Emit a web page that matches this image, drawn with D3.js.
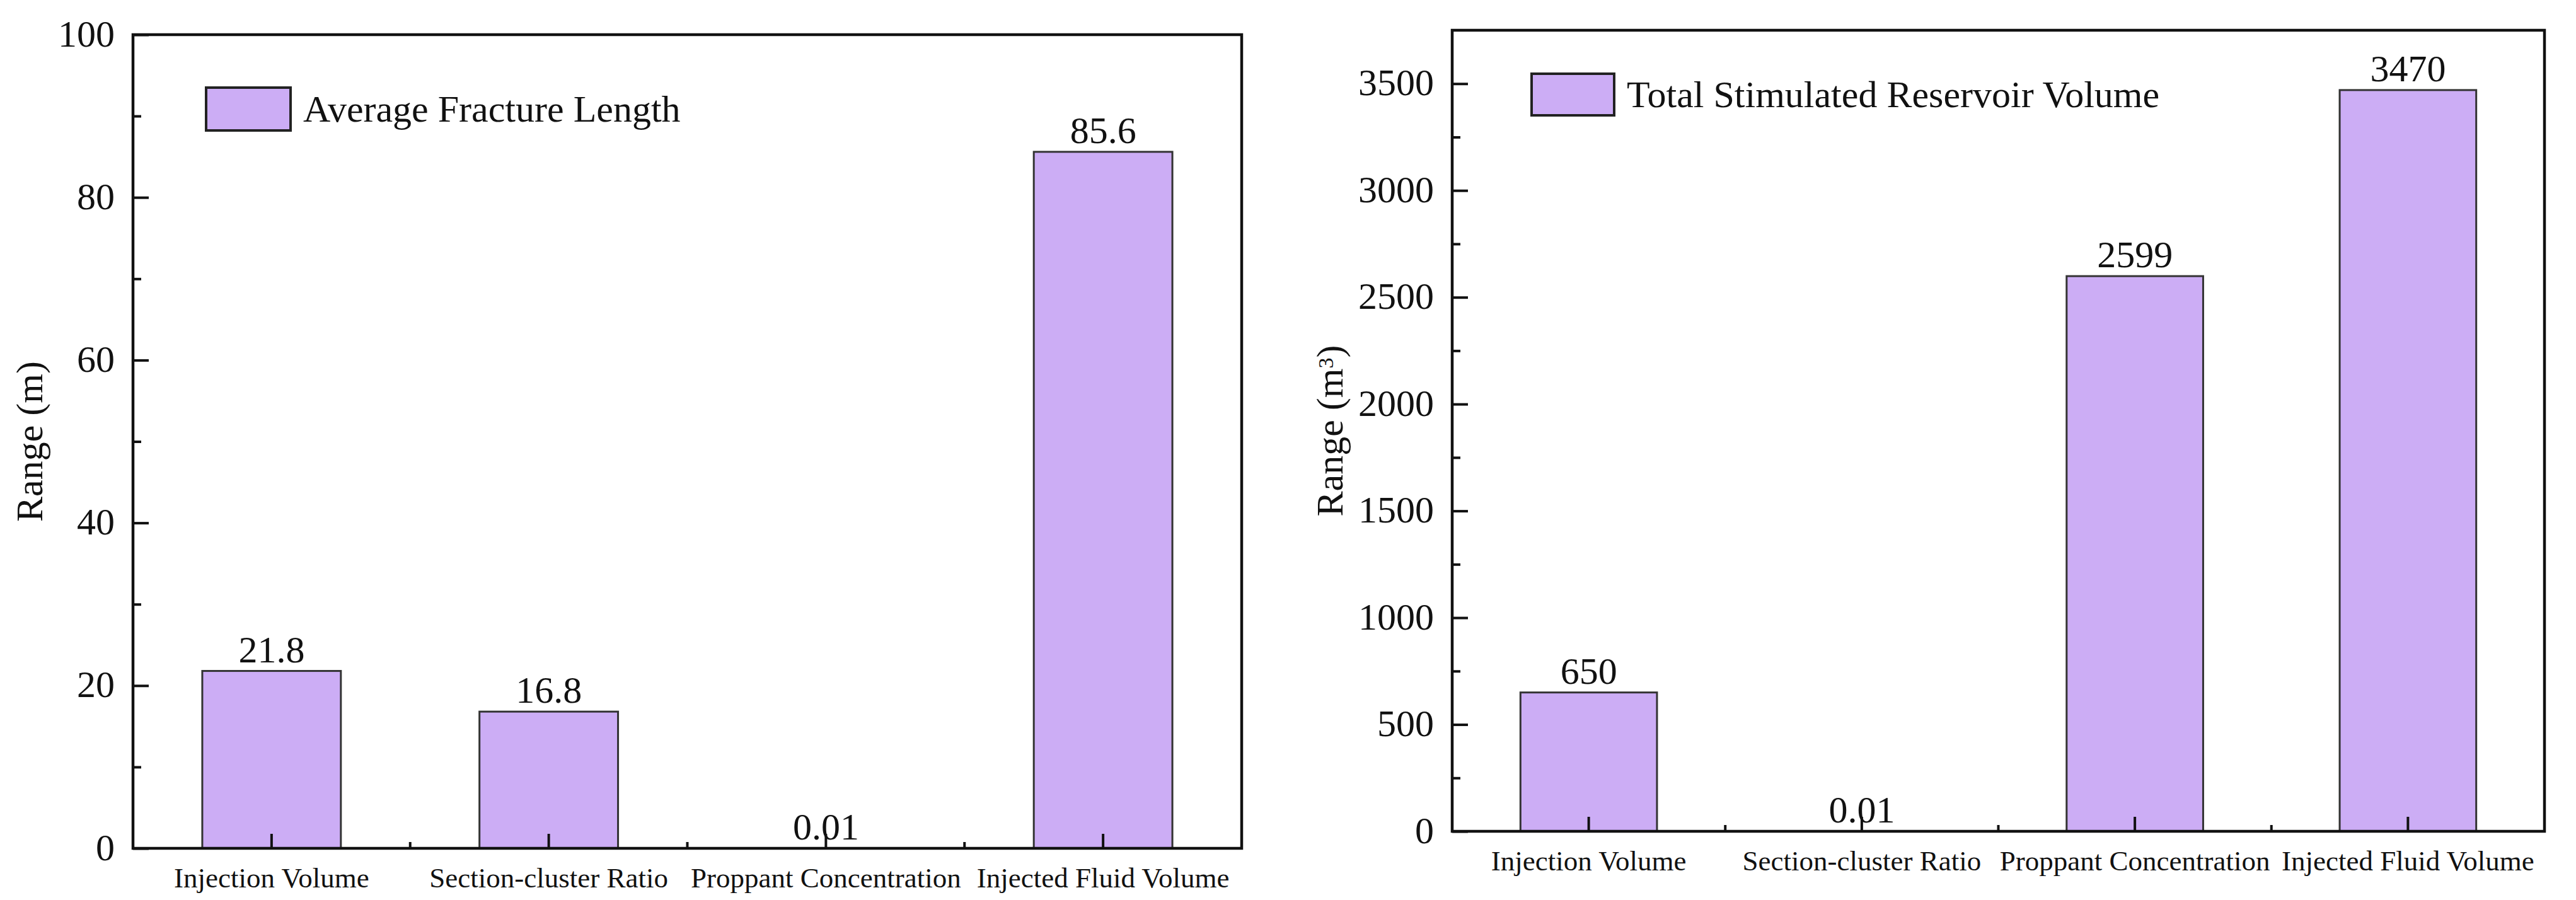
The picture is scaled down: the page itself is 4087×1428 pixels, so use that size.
<!DOCTYPE html>
<html>
<head>
<meta charset="utf-8">
<script src="https://cdn.jsdelivr.net/npm/d3@7"></script>
<style>
  html, body { margin: 0; padding: 0; background: #fff; }
  svg { display: block; }
  svg text { font-family: "Liberation Serif", "Times New Roman", serif; fill: #111; }
</style>
</head>
<body>
<div class="visualization"></div>
<script>
// categories shared by both panels
const categories = ["Injection Volume", "Section-cluster Ratio", "Proppant Concentration", "Injected Fluid Volume"];

// left panel
const fractureLength = [21.8, 16.8, 0.01, 85.6];
const fractureLabels = ["21.8", "16.8", "0.01", "85.6"];
const fractureTicks = [0, 20, 40, 60, 80, 100];
const fractureMinor = [10, 30, 50, 70, 90];

// right panel
const reservoirVolume = [650, 0.01, 2599, 3470];
const reservoirLabels = ["650", "0.01", "2599", "3470"];
const reservoirTicks = [0, 500, 1000, 1500, 2000, 2500, 3000, 3500];
const reservoirMinor = [250, 750, 1250, 1750, 2250, 2750, 3250];

const barFill = "#CCADF5";
const lineColor = "#111";
const serif = "'Liberation Serif', 'Times New Roman', serif";

const svg = d3.select("div.visualization").append("svg")
    .attr("width", 4087)
    .attr("height", 1428)
    .attr("font-family", serif);

svg.append("rect").attr("width", 4087).attr("height", 1428).attr("fill", "#fff");

function drawPanel(opt) {
  let x = d3.scaleBand()
      .domain(categories)
      .range([opt.left, opt.right])
      .paddingInner(0.5)
      .paddingOuter(0.25);

  let y = d3.scaleLinear()
      .domain(opt.domain)
      .range([opt.bottom, opt.top]);

  let g = svg.append("g");

  // bars
  g.selectAll("rect.bar")
      .data(opt.values)
      .enter().append("rect")
      .attr("class", "bar")
      .attr("x", (d, i) => x(categories[i]))
      .attr("y", d => y(d))
      .attr("width", x.bandwidth())
      .attr("height", d => y(0) - y(d))
      .style("fill", barFill)
      .style("stroke", "#333")
      .style("stroke-width", 3);

  // value labels
  g.selectAll("text.value")
      .data(opt.values)
      .enter().append("text")
      .attr("class", "value")
      .attr("x", (d, i) => x(categories[i]) + x.bandwidth() / 2)
      .attr("y", d => y(d) - 14)
      .attr("text-anchor", "middle")
      .style("font-size", "60px")
      .text((d, i) => opt.labels[i]);

  // minor y ticks
  g.append("g")
      .attr("transform", `translate(${opt.left},0)`)
      .call(d3.axisLeft(y).tickValues(opt.minor).tickSize(-13).tickSizeOuter(0).tickFormat(""))
      .call(s => s.select(".domain").remove())
      .selectAll("line").attr("stroke", lineColor).attr("stroke-width", 4);

  // major y ticks
  let yAxis = g.append("g")
      .attr("transform", `translate(${opt.left},0)`)
      .call(d3.axisLeft(y).tickValues(opt.ticks).tickSize(-25).tickSizeOuter(0)
        .tickPadding(29).tickFormat(d3.format("d")));
  yAxis.attr("font-family", null).attr("font-size", null);
  yAxis.select(".domain").remove();
  yAxis.selectAll("line").attr("stroke", lineColor).attr("stroke-width", 4);
  yAxis.selectAll("text")
      .attr("dy", "0.3em")
      .style("font-size", "60px")
      .attr("fill", "#111");

  // minor x ticks at band boundaries
  let step = x.step();
  g.selectAll("line.xminor")
      .data(categories.slice(0, categories.length - 1))
      .enter().append("line")
      .attr("class", "xminor")
      .attr("x1", d => x(d) + x.bandwidth() / 2 + step / 2)
      .attr("x2", d => x(d) + x.bandwidth() / 2 + step / 2)
      .attr("y1", opt.bottom)
      .attr("y2", opt.bottom - 10)
      .attr("stroke", lineColor)
      .attr("stroke-width", 4);

  // major x ticks and category labels
  let xAxis = g.append("g")
      .attr("transform", `translate(0,${opt.bottom})`)
      .call(d3.axisBottom(x).tickSize(-23).tickSizeOuter(0).tickPadding(30));
  xAxis.attr("font-family", null).attr("font-size", null);
  xAxis.select(".domain").remove();
  xAxis.selectAll("line").attr("stroke", lineColor).attr("stroke-width", 4);
  xAxis.selectAll("text")
      .style("font-size", "45px")
      .attr("fill", "#111");

  // frame
  g.append("rect")
      .attr("x", opt.left)
      .attr("y", opt.top)
      .attr("width", opt.right - opt.left)
      .attr("height", opt.bottom - opt.top)
      .style("fill", "none")
      .style("stroke", lineColor)
      .style("stroke-width", 4.5);

  // y title
  let title = g.append("text")
      .attr("transform", `translate(${opt.titleX},${(opt.top + opt.bottom) / 2}) rotate(-90)`)
      .attr("text-anchor", "middle")
      .style("font-size", "60px");
  title.append("tspan").text(opt.unit[0]);
  if (opt.unit[1]) {
    title.append("tspan").attr("dy", "-0.45em").style("font-size", "34px").text(opt.unit[1]);
    title.append("tspan").attr("dy", "0.26em").text(opt.unit[2]);
  }

  // legend
  g.append("rect")
      .attr("x", opt.legend[0])
      .attr("y", opt.legend[1])
      .attr("width", opt.legend[2])
      .attr("height", opt.legend[3])
      .style("fill", barFill)
      .style("stroke", "#222")
      .style("stroke-width", 4);
  g.append("text")
      .attr("x", opt.legend[0] + opt.legend[2] + 20)
      .attr("y", opt.legend[1] + opt.legend[3] / 2 + 20)
      .style("font-size", "60px")
      .text(opt.name);
}

drawPanel({
  left: 211, right: 1970, top: 55, bottom: 1346,
  domain: [0, 100],
  values: fractureLength, labels: fractureLabels,
  ticks: fractureTicks, minor: fractureMinor,
  titleX: 67, unit: ["Range (m)"],
  legend: [327, 139, 134, 68],
  name: "Average Fracture Length"
});

drawPanel({
  left: 2304, right: 4037, top: 48, bottom: 1319,
  domain: [0, 3750],
  values: reservoirVolume, labels: reservoirLabels,
  ticks: reservoirTicks, minor: reservoirMinor,
  titleX: 2130, unit: ["Range (m", "3", ")"],
  legend: [2430, 117, 131, 66],
  name: "Total Stimulated Reservoir Volume"
});
</script>
</body>
</html>
